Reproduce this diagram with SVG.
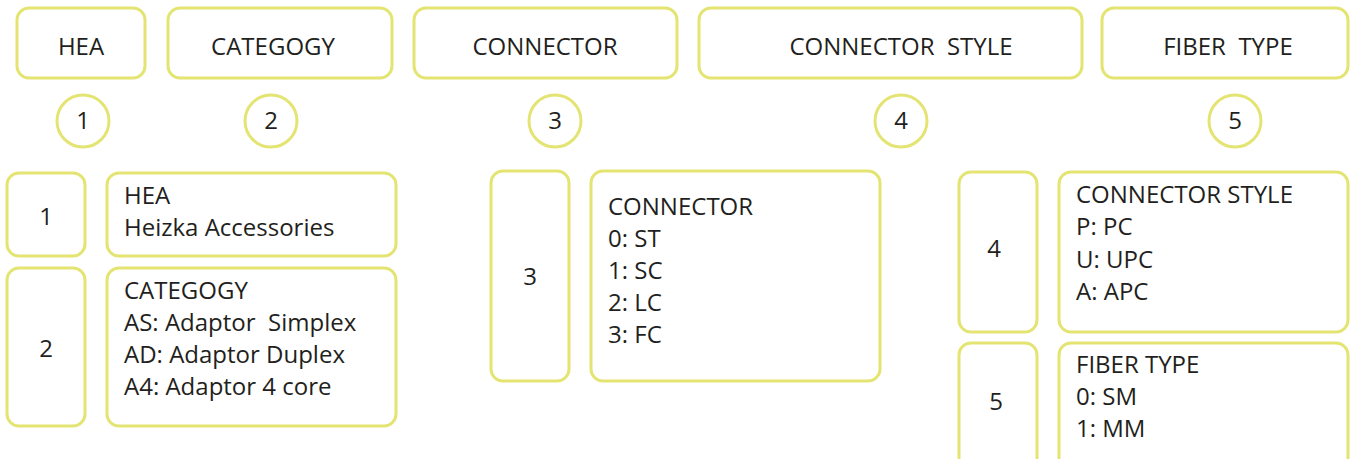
<svg xmlns="http://www.w3.org/2000/svg" width="1355" height="459" viewBox="0 0 1355 459">
<style>
.b{fill:#fff;stroke:#e3e472;stroke-width:3}
.t{font-family:"Open Sans","Noto Sans",sans-serif;font-size:24px;fill:#231f20;white-space:pre}
.c{text-anchor:middle}
</style>
<rect width="1355" height="459" fill="#fff"/>
<g id="hdr-hea"><rect class="b" x="17" y="8" width="128" height="70" rx="12"/><text class="t c" x="81" y="55">HEA</text></g>
<g id="hdr-category"><rect class="b" x="168" y="8" width="224" height="70" rx="12"/><text class="t c" x="273" y="55">CATEGOGY</text></g>
<g id="hdr-connector"><rect class="b" x="414" y="8" width="263" height="70" rx="12"/><text class="t c" x="545" y="55">CONNECTOR</text></g>
<g id="hdr-style"><rect class="b" x="699" y="8" width="383" height="70" rx="12"/><text class="t c" x="901" y="55">CONNECTOR  STYLE</text></g>
<g id="hdr-fiber"><rect class="b" x="1102" y="8" width="246" height="70" rx="12"/><text class="t c" x="1228" y="55">FIBER  TYPE</text></g>
<g id="num1"><circle class="b" cx="83" cy="121" r="26"/><text class="t c" x="83" y="129">1</text></g>
<g id="num2"><circle class="b" cx="271" cy="121" r="26"/><text class="t c" x="271" y="129">2</text></g>
<g id="num3"><circle class="b" cx="555" cy="121" r="26"/><text class="t c" x="555" y="129">3</text></g>
<g id="num4"><circle class="b" cx="901" cy="121" r="26"/><text class="t c" x="901" y="129">4</text></g>
<g id="num5"><circle class="b" cx="1235" cy="121" r="26"/><text class="t c" x="1235" y="129">5</text></g>
<g id="row1-key"><rect class="b" x="7" y="173" width="78" height="83" rx="12"/><text class="t c" x="46" y="225">1</text></g>
<g id="row1-desc"><rect class="b" x="107" y="173" width="289" height="83" rx="12"/><text class="t" x="124" y="204">HEA</text><text class="t" x="124" y="236">Heizka Accessories</text></g>
<g id="row2-key"><rect class="b" x="7" y="268" width="78" height="158" rx="12"/><text class="t c" x="46" y="357">2</text></g>
<g id="row2-desc"><rect class="b" x="107" y="268" width="289" height="158" rx="12"/><text class="t" x="124" y="299">CATEGOGY</text><text class="t" x="124" y="331">AS: Adaptor  Simplex</text><text class="t" x="124" y="363">AD: Adaptor Duplex</text><text class="t" x="124" y="395">A4: Adaptor 4 core</text></g>
<g id="row3-key"><rect class="b" x="491" y="171" width="78" height="210" rx="12"/><text class="t c" x="530" y="285">3</text></g>
<g id="row3-desc"><rect class="b" x="591" y="171" width="289" height="210" rx="12"/><text class="t" x="608" y="215">CONNECTOR</text><text class="t" x="608" y="247">0: ST</text><text class="t" x="608" y="279">1: SC</text><text class="t" x="608" y="311">2: LC</text><text class="t" x="608" y="343">3: FC</text></g>
<g id="row4-key"><rect class="b" x="959" y="172" width="78" height="160" rx="12"/><text class="t c" x="994" y="257">4</text></g>
<g id="row4-desc"><rect class="b" x="1059" y="172" width="289" height="160" rx="12"/><text class="t" x="1076" y="203">CONNECTOR STYLE</text><text class="t" x="1076" y="235">P: PC</text><text class="t" x="1076" y="268">U: UPC</text><text class="t" x="1076" y="300">A: APC</text></g>
<g id="row5-key"><rect class="b" x="959" y="343" width="78" height="130" rx="12"/><text class="t c" x="996" y="410">5</text></g>
<g id="row5-desc"><rect class="b" x="1059" y="343" width="289" height="130" rx="12"/><text class="t" x="1076" y="373">FIBER TYPE</text><text class="t" x="1076" y="405">0: SM</text><text class="t" x="1076" y="437">1: MM</text></g>
<g id="connectors"/>
</svg>
